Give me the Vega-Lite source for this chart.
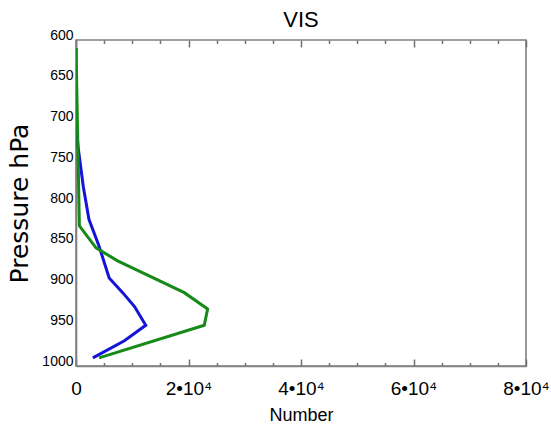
{
  "$schema": "https://vega.github.io/schema/vega-lite/v6.json",
  "width": 450,
  "height": 326,
  "autosize": {"type": "none"},
  "padding": {"left": 76, "top": 40, "right": 25, "bottom": 64},
  "background": "white",
  "title": {"text": "VIS", "fontSize": 22, "font": "Liberation Sans", "fontWeight": "normal", "color": "black", "anchor": "middle", "offset": -4},
  "config": {
    "view": {"stroke": "#808080", "strokeWidth": 1.6},
    "axis": {"grid": false, "domainColor": "#808080", "domainWidth": 1.6, "tickColor": "#707070", "tickWidth": 1.5, "labelFont": "Liberation Sans", "titleFont": "Liberation Sans", "labelColor": "black", "titleColor": "black", "titleFontWeight": "normal"}
  },
  "data": {"values": [
    {"series": "s1", "p": 610, "n": 0},
    {"series": "s1", "p": 700, "n": 10},
    {"series": "s1", "p": 731, "n": 360},
    {"series": "s1", "p": 780, "n": 1300},
    {"series": "s1", "p": 820, "n": 2300},
    {"series": "s1", "p": 853, "n": 4100},
    {"series": "s1", "p": 892, "n": 5900},
    {"series": "s1", "p": 910, "n": 8300},
    {"series": "s1", "p": 927, "n": 10400},
    {"series": "s1", "p": 950, "n": 12400},
    {"series": "s1", "p": 969, "n": 8600},
    {"series": "s1", "p": 990, "n": 3000},
    {"series": "s2", "p": 610, "n": 0},
    {"series": "s2", "p": 828, "n": 600},
    {"series": "s2", "p": 855, "n": 3560},
    {"series": "s2", "p": 871, "n": 7400},
    {"series": "s2", "p": 910, "n": 19250},
    {"series": "s2", "p": 930, "n": 23400},
    {"series": "s2", "p": 950, "n": 22800},
    {"series": "s2", "p": 990, "n": 4100}
  ]},
  "layer": [
    {
      "mark": {"type": "line", "strokeWidth": 3, "clip": true},
      "encoding": {
        "x": {"field": "n", "type": "quantitative", "scale": {"domain": [0, 80000], "nice": false, "zero": false},
          "axis": {"orient": "bottom", "title": "Number", "titleFontSize": 18, "titlePadding": 5,
            "values": [0,5000,10000,15000,20000,25000,30000,35000,40000,45000,50000,55000,60000,65000,70000,75000,80000],
            "labelExpr": "datum.value == 0 ? '0' : (datum.value % 20000 == 0 ? (datum.value/10000) + '•10⁴' : '')",
            "tickSize": {"condition": {"test": "datum.value % 20000 == 0", "value": -7}, "value": -3.5},
            "labelPadding": 20, "labelFontSize": 19, "labelFlush": false, "labelOverlap": false}},
        "y": {"field": "p", "type": "quantitative", "scale": {"domain": [600, 1000], "nice": false, "zero": false, "reverse": true},
          "axis": {"title": "Pressure hPa", "titleFont": "DejaVu Sans", "titleFontSize": 25, "titlePadding": 9, "values": [600,650,700,750,800,850,900,950,1000],
            "format": "d", "ticks": false, "labelPadding": 3, "labelFontSize": 14, "labelOffset": -5, "labelFlush": false}},
        "color": {"field": "series", "type": "nominal", "scale": {"domain": ["s1", "s2"], "range": ["#1414d8", "#168a16"]}, "legend": null},
        "order": {"field": "p", "type": "quantitative"}
      }
    },
    {
      "mark": {"type": "rule", "opacity": 0},
      "encoding": {
        "x": {"datum": 0, "type": "quantitative",
          "axis": {"orient": "top", "title": null, "labels": false, "domain": false,
            "values": [0,5000,10000,15000,20000,25000,30000,35000,40000,45000,50000,55000,60000,65000,70000,75000,80000],
            "tickSize": {"condition": {"test": "datum.value % 20000 == 0", "value": -7}, "value": -3.5}}}
      }
    }
  ],
  "resolve": {"axis": {"x": "independent"}}
}
